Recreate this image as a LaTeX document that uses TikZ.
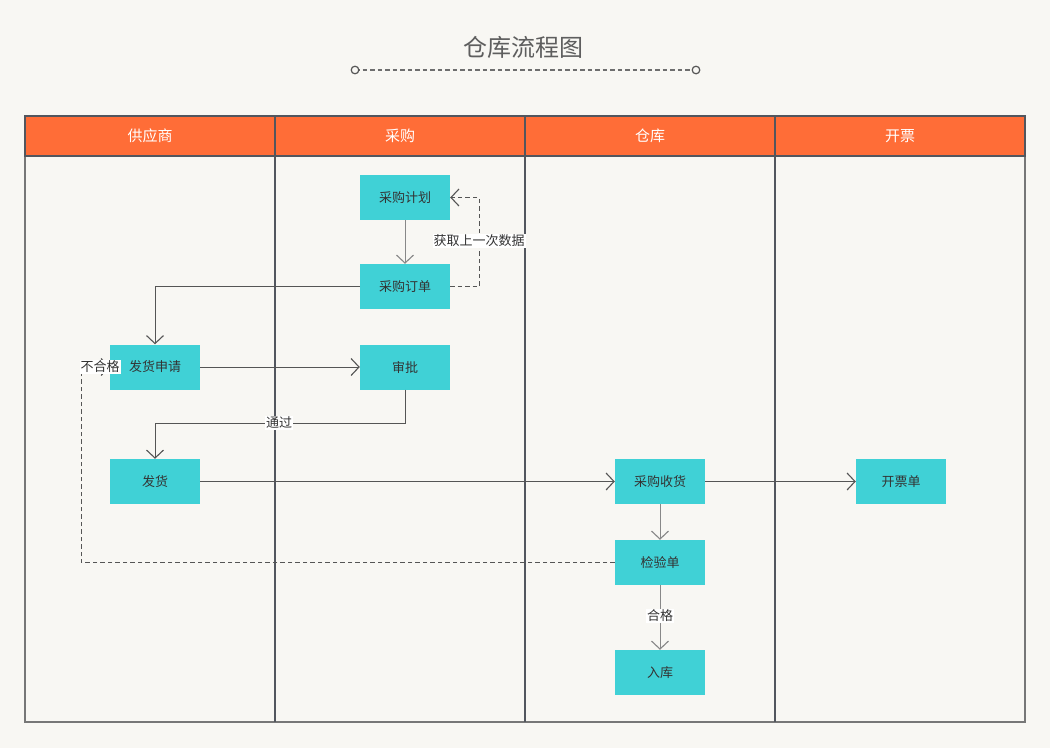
\documentclass[tikz,border=0pt]{standalone}
\usepackage{fontspec}
\setmainfont{Noto Sans CJK SC}
\usetikzlibrary{arrows.meta}
\definecolor{bg}{HTML}{F8F7F3}
\definecolor{hdr}{HTML}{FF6D37}
\definecolor{cyanbox}{HTML}{40D1D6}
\definecolor{lanel}{HTML}{52565E}
\definecolor{txt}{HTML}{333333}
\definecolor{ln}{HTML}{555555}
\tikzset{
  box/.style={draw=none, fill=cyanbox, minimum width=90pt, minimum height=45pt, inner sep=0pt, text=txt, font=\fontsize{13}{15}\selectfont},
  hd/.style={text=white, font=\fontsize{15}{17}\selectfont},
  arr/.style={draw=ln, line width=1pt, -{Straight Barb[length=8pt,width=17pt,line width=1.1pt]}},
  dsh/.style={dash pattern=on 4.5pt off 3pt},
  lbl/.style={fill=white, inner sep=1pt, text=txt, font=\fontsize{13}{15}\selectfont},
}
\begin{document}
\begin{tikzpicture}[x=1pt,y=-1pt]
\fill[bg] (0,0) rectangle (1050,748);
\useasboundingbox (0,0) rectangle (1050,748);
% title
\node[text=ln!95, font=\fontsize{24}{28}\selectfont] (title) at (523,47) {仓库流程图};
\coordinate (tl) at (355,70);
\coordinate (tr) at (696,70);
\draw[ln!85, dsh, line width=1.1pt] (tl) -- (tr);
\draw[ln, line width=1.2pt, fill=bg] (tl) circle (3.8);
\draw[ln, line width=1.2pt, fill=bg] (tr) circle (3.8);
% swimlanes
\fill[hdr] (25,116) rectangle (1025,156);
\draw[ln!80, line width=1.5pt] (25,156) rectangle (1025,722);
\draw[lanel, line width=1.5pt] (25,116) rectangle (1025,156);
\foreach \xx in {275,525,775} \draw[lanel, line width=2pt] (\xx,116) -- (\xx,722);
\node[hd] (h1) at (150,136) {供应商};
\node[hd] (h2) at (400,136) {采购};
\node[hd] (h3) at (650,136) {仓库};
\node[hd] (h4) at (900,136) {开票};
% nodes
\node[box] (jh) at (405,197.5) {采购计划};
\node[box] (dd) at (405,286.5) {采购订单};
\node[box] (sq) at (155,367) {发货申请};
\node[box] (sp) at (405,367) {审批};
\node[box] (fh) at (155,481.5) {发货};
\node[box] (sh) at (660,481.5) {采购收货};
\node[box] (kp) at (901,481.5) {开票单};
\node[box] (jy) at (660,562.5) {检验单};
\node[box] (rk) at (660,672.5) {入库};
% connectors
\draw[arr, draw=ln!70] (jh) -- (dd);
\draw[arr, dsh] (dd.east) -- ++(29,0) coordinate (c1) |- (jh.east);
\node[lbl] (l1) at (479,241) {获取上一次数据};
\draw[arr] (dd.west) -| (sq.north);
\draw[arr] (sq.east) -- (sp.west);
\draw[arr] (sp.south) -- ++(0,34) coordinate (c2) -| (fh.north);
\node[lbl] (l2) at (279,423) {通过};
\draw[arr] (fh.east) -- (sh.west);
\draw[arr] (sh.east) -- (kp.west);
\draw[arr, draw=ln!70] (sh) -- (jy);
\draw[arr, dsh] (jy.west) -| (81,367) -- (sq.west);
\node[lbl] (l3) at (100,367) {不合格};
\draw[arr, draw=ln!70] (jy) -- (rk);
\node[lbl] (l4) at (660,616) {合格};
\end{tikzpicture}
\end{document}
